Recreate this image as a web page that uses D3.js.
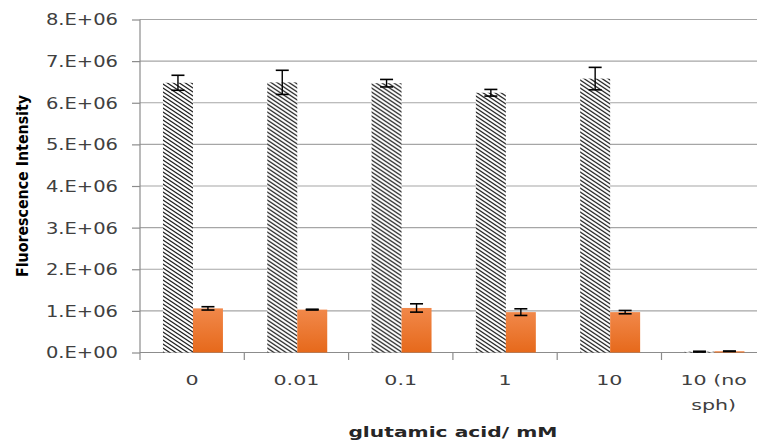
<!DOCTYPE html>
<html>
<head>
<meta charset="utf-8">
<script src="https://cdn.jsdelivr.net/npm/d3@7"></script>
<style>
  body { margin: 0; background: #fff; }
  svg { display: block; }
</style>
</head>
<body>
<div class="plot"></div>
<script>
// chart values
var categories = ["0", "0.01", "0.1", "1", "10", "10 (no sph)"];
var hatched_values = [6.48e6, 6.49e6, 6.47e6, 6.24e6, 6.58e6, 0.02e6];
var hatched_errors = [0.18e6, 0.29e6, 0.09e6, 0.08e6, 0.27e6, 0.01e6];
var orange_values = [1.06e6, 1.03e6, 1.07e6, 0.97e6, 0.97e6, 0.03e6];
var orange_errors = [0.04e6, 0.01e6, 0.10e6, 0.08e6, 0.04e6, 0.005e6];
var y_ticks = [0, 1e6, 2e6, 3e6, 4e6, 5e6, 6e6, 7e6, 8e6];
var y_tick_labels = ["0.E+00", "1.E+06", "2.E+06", "3.E+06", "4.E+06", "5.E+06", "6.E+06", "7.E+06", "8.E+06"];

var width = 757, height = 442;
var plot = {left: 140, top: 19.5, bottom: 352.5, step: 104.3};

var svg = d3.select(".plot")
  .append("svg")
  .attr("width", width)
  .attr("height", height);

var defs = svg.append("defs");

// diagonal hatch, lines running down to the right
var tw = 6, th = 4;
var pat = defs.append("pattern")
  .attr("id", "hatch")
  .attr("patternUnits", "userSpaceOnUse")
  .attr("width", tw)
  .attr("height", th);
pat.append("rect").attr("width", tw).attr("height", th).attr("fill", "#fff");
[-1, 0, 1].forEach(function(k) {
  pat.append("line")
    .attr("x1", -tw).attr("y1", -th + k * th)
    .attr("x2", 2 * tw).attr("y2", 2 * th + k * th)
    .attr("stroke", "#1a1a1a")
    .attr("stroke-width", 1.15);
});

var grad = defs.append("linearGradient")
  .attr("id", "orange")
  .attr("x1", 0).attr("y1", 0).attr("x2", 0).attr("y2", 1);
grad.append("stop").attr("offset", "0%").attr("stop-color", "#f1884a");
grad.append("stop").attr("offset", "100%").attr("stop-color", "#e6691b");

var yScale = d3.scaleLinear()
  .domain([0, 8e6])
  .range([plot.bottom, plot.top]);

var xScale = d3.scaleBand()
  .domain(categories)
  .range([plot.left, plot.left + plot.step * categories.length])
  .paddingInner(0.425)
  .paddingOuter(0.2125);

var xSub = d3.scaleBand()
  .domain(["hatched", "orange"])
  .range([0, xScale.bandwidth()]);

// stretch text horizontally to match the wide look of the original
function stretch(sel, k) {
  sel.each(function() {
    var len = this.getComputedTextLength();
    d3.select(this)
      .attr("textLength", len * k)
      .attr("lengthAdjust", "spacingAndGlyphs");
  });
}

// gridlines
svg.append("g")
  .selectAll("line")
  .data(y_ticks.slice(1))
  .enter()
  .append("line")
  .attr("x1", plot.left)
  .attr("x2", width)
  .attr("y1", function(d) { return yScale(d); })
  .attr("y2", function(d) { return yScale(d); })
  .attr("stroke", "#a6a6a6")
  .attr("stroke-width", 1.2);

// y axis
var yAxis = svg.append("g")
  .attr("transform", "translate(" + plot.left + ",0)")
  .call(d3.axisLeft(yScale)
    .tickValues(y_ticks)
    .tickSize(8)
    .tickPadding(14)
    .tickFormat(function(d, i) { return y_tick_labels[i]; }));
yAxis.select(".domain").remove();
yAxis.selectAll(".tick line").attr("stroke", "#8c8c8c").attr("stroke-width", 1.2);
yAxis.selectAll(".tick text")
  .style("font-family", "DejaVu Sans")
  .style("font-size", "15px")
  .attr("fill", "#404040")
  .attr("dy", "0.36em");
stretch(yAxis.selectAll(".tick text"), 1.3);

svg.append("line")
  .attr("x1", plot.left).attr("x2", plot.left)
  .attr("y1", plot.top).attr("y2", plot.bottom + 7.5)
  .attr("stroke", "#8c8c8c").attr("stroke-width", 1.2);

// x axis line and boundary ticks
svg.append("line")
  .attr("x1", plot.left).attr("x2", width)
  .attr("y1", plot.bottom).attr("y2", plot.bottom)
  .attr("stroke", "#8c8c8c").attr("stroke-width", 1.2);

svg.append("g")
  .selectAll("line")
  .data(d3.range(1, categories.length))
  .enter()
  .append("line")
  .attr("x1", function(i) { return plot.left + i * plot.step; })
  .attr("x2", function(i) { return plot.left + i * plot.step; })
  .attr("y1", plot.bottom)
  .attr("y2", plot.bottom + 7.5)
  .attr("stroke", "#8c8c8c").attr("stroke-width", 1.2);

// bars
var groups = svg.append("g")
  .selectAll("g")
  .data(categories)
  .enter()
  .append("g")
  .attr("transform", function(d) { return "translate(" + (xScale(d) + 0.8) + ",0)"; });

groups.append("rect")
  .attr("x", xSub("hatched"))
  .attr("width", xSub.bandwidth())
  .attr("y", function(d, i) { return yScale(hatched_values[i]); })
  .attr("height", function(d, i) { return plot.bottom - yScale(hatched_values[i]); })
  .attr("fill", "url(#hatch)");

groups.append("rect")
  .attr("x", xSub("orange"))
  .attr("width", xSub.bandwidth())
  .attr("y", function(d, i) { return yScale(orange_values[i]); })
  .attr("height", function(d, i) { return plot.bottom - yScale(orange_values[i]); })
  .attr("fill", "url(#orange)");

function errorBar(g, cx, v, e) {
  var cap = 6.5;
  g.append("line")
    .attr("x1", cx).attr("x2", cx)
    .attr("y1", yScale(v + e)).attr("y2", yScale(v - e))
    .attr("stroke", "#000").attr("stroke-width", 1.4);
  [v + e, v - e].forEach(function(y) {
    g.append("line")
      .attr("x1", cx - cap).attr("x2", cx + cap)
      .attr("y1", yScale(y)).attr("y2", yScale(y))
      .attr("stroke", "#000").attr("stroke-width", 1.6);
  });
}

groups.each(function(d, i) {
  var g = d3.select(this);
  errorBar(g, xSub("hatched") + xSub.bandwidth() / 2, hatched_values[i], hatched_errors[i]);
  errorBar(g, xSub("orange") + xSub.bandwidth() / 2, orange_values[i], orange_errors[i]);
});

// category labels
var labels = svg.append("g")
  .selectAll("text")
  .data(categories)
  .enter()
  .append("text")
  .attr("text-anchor", "middle")
  .style("font-family", "DejaVu Sans")
  .style("font-size", "14.5px")
  .attr("fill", "#404040");

labels.each(function(d) {
  var t = d3.select(this);
  var cx = xScale(d) + xScale.bandwidth() / 2;
  var lines = d == "10 (no sph)" ? ["10 (no", "sph)"] : [d];
  lines.forEach(function(s, j) {
    t.append("tspan")
      .attr("x", cx)
      .attr("y", 385 + j * 25)
      .text(s);
  });
});
stretch(labels.selectAll("tspan"), 1.42);

// axis titles
svg.append("text")
  .attr("x", plot.left + plot.step * 3)
  .attr("y", 437)
  .attr("text-anchor", "middle")
  .style("font-family", "DejaVu Sans")
  .style("font-weight", "bold")
  .style("font-size", "14px")
  .attr("fill", "#262626")
  .attr("textLength", 209)
  .attr("lengthAdjust", "spacingAndGlyphs")
  .text("glutamic acid/ mM");

svg.append("text")
  .attr("transform", "translate(28,186) rotate(-90)")
  .attr("text-anchor", "middle")
  .style("font-family", "Liberation Sans Narrow, DejaVu Sans Condensed, DejaVu Sans")
  .style("font-weight", "bold")
  .style("font-size", "16px")
  .attr("fill", "#000")
  .attr("textLength", 182)
  .attr("lengthAdjust", "spacingAndGlyphs")
  .text("Fluorescence Intensity");
</script>
</body>
</html>
